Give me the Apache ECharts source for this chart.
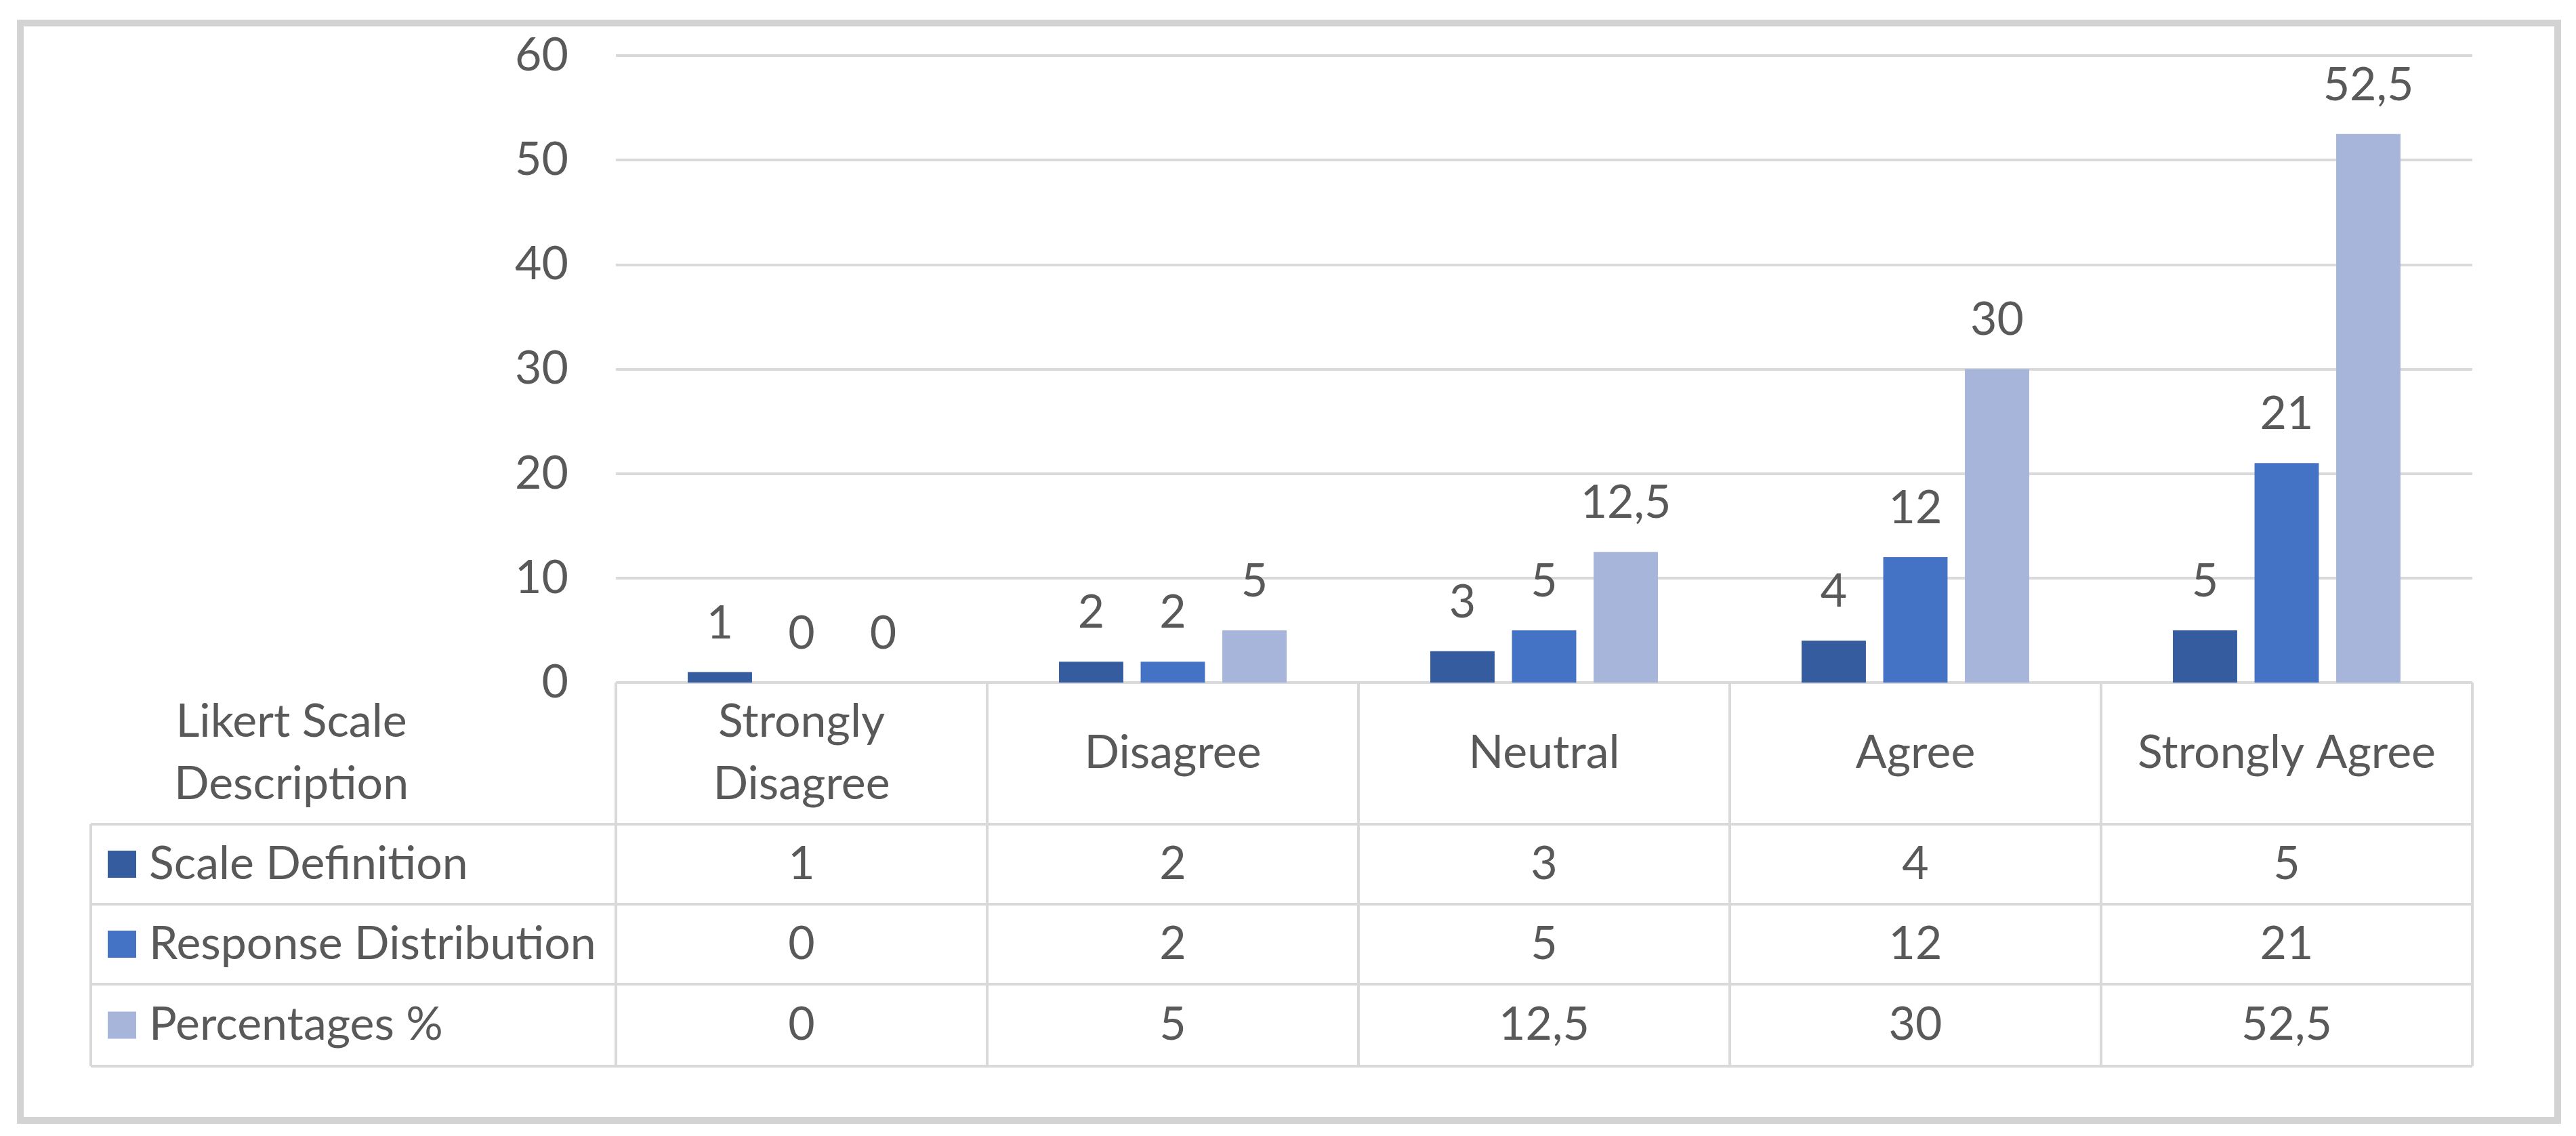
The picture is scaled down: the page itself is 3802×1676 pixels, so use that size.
<!DOCTYPE html>
<html>
<head>
<meta charset="utf-8">
<title>Likert Scale chart</title>
<script src="https://cdn.jsdelivr.net/npm/echarts@6/dist/echarts.min.js"></script>
<style>
  html, body { margin: 0; padding: 0; background: #fff; }
  #chart { width: 3802px; height: 1676px; }
</style>
</head>
<body>
<div id="chart"></div>
<script>
(function () {
  'use strict';

  // ---- data ----
  const categories = ['Strongly\nDisagree', 'Disagree', 'Neutral', 'Agree', 'Strongly Agree'];
  const seriesNames = ['Scale Definition', 'Response Distribution', 'Percentages %'];
  const scaleDefinition = [1, 2, 3, 4, 5];
  const responseDistribution = [0, 2, 5, 12, 21];
  const percentages = [0, 5, 12.5, 30, 52.5];
  const yTicks = { min: 0, max: 60, interval: 10 };
  const headerTitle = ['Likert Scale', 'Description'];

  // ---- look ----
  const COLORS = ['#355C9F', '#4472C4', '#A7B5DB'];
  const TEXT = '#595959';
  const HAIR = '#D9D9D9';
  const FONT = 'Lato, "Open Sans", sans-serif';
  const FS = 68;

  const fmt = v => String(v).replace('.', ',');
  const rows = [scaleDefinition, responseDistribution, percentages];

  const el = document.getElementById('chart');
  const chart = echarts.init(el, null, { renderer: 'canvas' });

  const grid = { left: 909, right: 153, top: 82, bottom: 669 };

  chart.setOption({
    animation: false,
    backgroundColor: '#fff',
    textStyle: { fontFamily: FONT, color: TEXT },
    grid: grid,
    xAxis: {
      type: 'category',
      data: categories,
      axisLine: { show: false },
      axisTick: { show: false },
      axisLabel: { show: false },
      splitLine: { show: false }
    },
    yAxis: {
      type: 'value',
      min: yTicks.min, max: yTicks.max, interval: yTicks.interval,
      axisLine: { show: false },
      axisTick: { show: false },
      axisLabel: { color: TEXT, fontSize: FS, fontFamily: FONT, margin: 70 },
      splitLine: { lineStyle: { color: HAIR, width: 4 } }
    },
    series: rows.map((vals, i) => ({
      name: seriesNames[i],
      type: 'bar',
      data: vals,
      barGap: '27%',
      barCategoryGap: '38.7%',
      itemStyle: { color: COLORS[i] },
      label: {
        show: true,
        position: 'top',
        distance: 38,
        color: TEXT,
        fontSize: FS,
        fontFamily: FONT,
        formatter: p => fmt(p.value)
      }
    }))
  });

  // ---- data table under the plot (positions taken from the chart's scales) ----
  const centers = categories.map((c, i) => chart.convertToPixel({ xAxisIndex: 0 }, i));
  const catW = centers[1] - centers[0];
  const x0 = centers[0] - catW / 2;
  const x1 = centers[centers.length - 1] + catW / 2;
  const yTop = chart.convertToPixel({ yAxisIndex: 0 }, 0);
  const tableLeft = 134;
  const rowLines = [yTop, 1216, 1334, 1452, 1573];
  const yBottom = rowLines[rowLines.length - 1];

  const g = [];
  const line = (xa, ya, xb, yb) => g.push({
    type: 'line', silent: true,
    shape: { x1: xa, y1: ya, x2: xb, y2: yb },
    style: { stroke: HAIR, lineWidth: 4 }
  });
  const text = (x, y, str, align) => g.push({
    type: 'text', silent: true, x: x, y: y,
    style: {
      text: str, fill: TEXT, font: FS + 'px ' + FONT,
      align: align || 'center', verticalAlign: 'middle', lineHeight: 92
    }
  });

  // outer frame
  g.push({
    type: 'rect', silent: true,
    shape: { x: 30, y: 34, width: 3745, height: 1619 },
    style: { fill: 'none', stroke: '#D3D3D3', lineWidth: 10 }
  });

  // horizontal lines
  line(x0, rowLines[0], x1, rowLines[0]);
  for (let r = 1; r < rowLines.length; r++) line(tableLeft, rowLines[r], x1, rowLines[r]);
  // vertical lines
  for (let i = 0; i <= categories.length; i++) {
    const x = x0 + i * catW;
    line(x, yTop, x, yBottom);
  }
  line(tableLeft, rowLines[1], tableLeft, yBottom);

  // header row
  const headY = (rowLines[0] + rowLines[1]) / 2;
  text(430, headY, headerTitle.join('\n'));
  categories.forEach((c, i) => text(centers[i], headY, c));

  // series rows with legend keys
  rows.forEach((vals, r) => {
    const cy = (rowLines[r + 1] + rowLines[r + 2]) / 2;
    g.push({
      type: 'rect', silent: true,
      shape: { x: 159, y: cy - 20, width: 42, height: 40 },
      style: { fill: COLORS[r] }
    });
    text(220, cy, seriesNames[r], 'left');
    vals.forEach((v, i) => text(centers[i], cy, fmt(v)));
  });

  chart.setOption({ graphic: g });
})();
</script>
</body>
</html>
